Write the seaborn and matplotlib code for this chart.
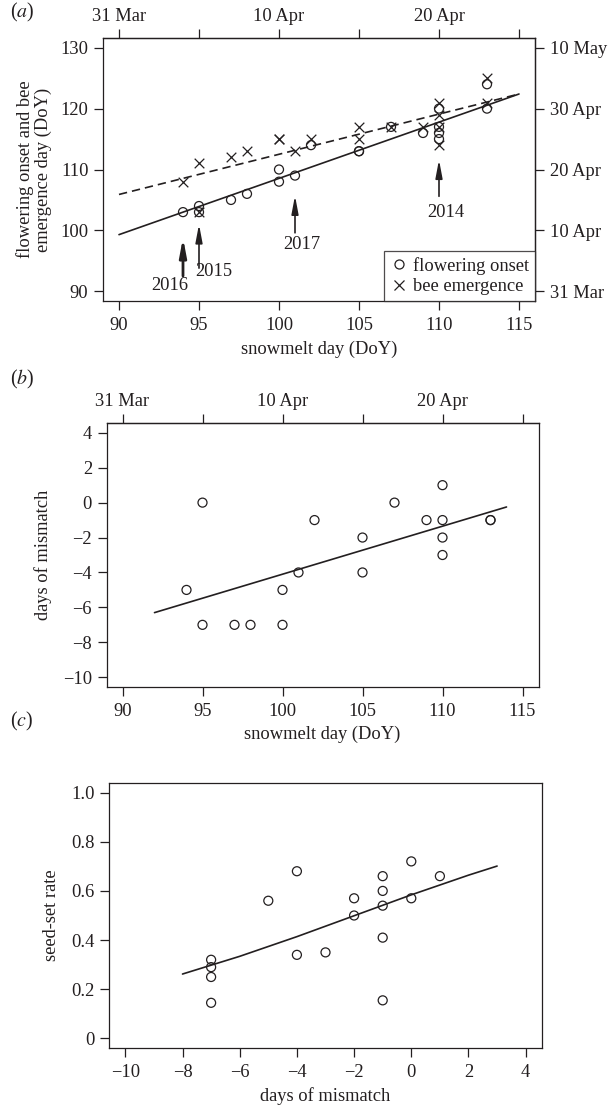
import numpy as np
import pandas as pd
import matplotlib
matplotlib.use("Agg")
import matplotlib.pyplot as plt
from matplotlib.lines import Line2D
import seaborn as sns

# ---------------- data ----------------
snow_x = [94, 95, 95, 97, 98, 100, 100, 101, 102, 105, 105, 107, 109, 110, 110, 110, 110, 113, 113]
flower_onset = [103, 104, 103, 105, 106, 110, 108, 109, 114, 113, 113, 117, 116, 120, 117, 116, 115, 124, 120]
bee_emergence = [108, 111, 103, 112, 113, 115, 115, 113, 115, 117, 115, 117, 117, 121, 119, 117, 114, 125, 121]

flower_fit_x = [90, 115]
flower_fit_y = [99.3, 122.4]
bee_fit_x = [90, 115]
bee_fit_y = [105.9, 122.4]

mismatch = [-5, 0, -7, -7, -7, -5, -7, -4, -1, -2, -4, 0, -1, 1, -1, -2, -3, -1, -1]
mis_fit_x = [92, 114]
mis_fit_y = [-6.3, -0.25]

seed_mis = [-7, -7, -7, -7, -5, -4, -4, -3, -2, -2, -1, -1, -1, -1, -1, 0, 0, 1]
seed_rate = [0.32, 0.29, 0.25, 0.145, 0.56, 0.68, 0.34, 0.35, 0.57, 0.50, 0.66, 0.60, 0.54, 0.41, 0.155, 0.72, 0.57, 0.66]
seed_fit_x = [-8, -6, -4, -2, 0, 2, 3]
seed_fit_y = [0.262, 0.334, 0.414, 0.499, 0.584, 0.664, 0.701]

snow_ticks = [90, 95, 100, 105, 110, 115]
date_ticks = [90, 95, 100, 105, 110, 115]
date_labels = ["31 Mar", "", "10 Apr", "", "20 Apr", ""]
a_yticks = [90, 100, 110, 120, 130]
a_right_labels = ["31 Mar", "10 Apr", "20 Apr", "30 Apr", "10 May"]
b_yticks = [4, 2, 0, -2, -4, -6, -8, -10]
c_xticks = [-10, -8, -6, -4, -2, 0, 2, 4]
c_yticks = [0, 0.2, 0.4, 0.6, 0.8, 1.0]
c_ylabels = ["0", "0.2", "0.4", "0.6", "0.8", "1.0"]

years = ["2016", "2015", "2017", "2014"]
year_x = [94, 95, 101, 110]

# ---------------- style ----------------
sns.set_theme(style="ticks")
INK = "#231f20"
FS = 13.3
plt.rcParams["font.family"] = ["Liberation Serif", "DejaVu Serif"]
plt.rcParams["mathtext.fontset"] = "stix"
plt.rcParams.update({
    "axes.edgecolor": INK, "axes.linewidth": 0.9,
    "xtick.color": INK, "ytick.color": INK,
    "xtick.labelcolor": INK, "ytick.labelcolor": INK,
    "xtick.direction": "out", "ytick.direction": "out",
    "xtick.major.size": 6.5, "ytick.major.size": 6.5,
    "xtick.major.pad": 5, "ytick.major.pad": 4,
    "xtick.major.width": 0.9, "ytick.major.width": 0.9,
    "xtick.labelsize": FS, "ytick.labelsize": FS,
    "axes.labelsize": FS, "text.color": INK, "axes.labelcolor": INK,
    "axes.unicode_minus": True,
})

W, H = 609, 1106
fig = plt.figure(figsize=(W / 100, H / 100), dpi=100)

def box(l, r, t, b):
    return [l / W, 1 - b / H, (r - l) / W, (b - t) / H]

axa = fig.add_axes(box(103, 535, 38, 301))
axb = fig.add_axes(box(106.5, 538.5, 423, 687))
axc = fig.add_axes(box(109.3, 541.7, 782.7, 1048.3))

circ_kw = dict(marker="o", s=42, facecolor="none", edgecolor=INK, linewidth=0.9, zorder=3)
cross_kw = dict(marker="x", s=48, color=INK, linewidth=0.9, zorder=3)

# ---------------- panel a ----------------
sns.lineplot(x=flower_fit_x, y=flower_fit_y, ax=axa, color=INK, lw=1.2)
sns.lineplot(x=bee_fit_x, y=bee_fit_y, ax=axa, color=INK, lw=1.2, linestyle=(0, (5, 3)))
sns.scatterplot(x=snow_x, y=flower_onset, ax=axa, **circ_kw)
sns.scatterplot(x=snow_x, y=bee_emergence, ax=axa, **cross_kw)
axa.set_xlim(89, 116)
axa.set_ylim(88.4, 131.6)
axa.set_xticks(snow_ticks)
axa.set_yticks(a_yticks)
axa.set_xlabel("snowmelt day (DoY)", labelpad=5)
axa.set_ylabel("flowering onset and bee\nemergence day (DoY)", labelpad=6, linespacing=1.05)
topa = axa.secondary_xaxis("top")
topa.set_xticks(date_ticks, labels=date_labels)
topa.tick_params(pad=3)
righta = axa.secondary_yaxis("right")
righta.set_yticks(a_yticks, labels=a_right_labels)

# arrows and year labels
arrow_from = [92.5, 93.8, 99.6, 105.6]
arrow_to = [98.8, 101.0, 105.7, 111.6]
arrow_lw = [2.0, 1.2, 1.2, 1.2]
label_pos = [(93.2, 90.9), (95.9, 93.3), (101.4, 97.7), (110.4, 102.9)]
for yr, xx, y0, y1, lw, (tx, ty) in zip(years, year_x, arrow_from, arrow_to, arrow_lw, label_pos):
    axa.annotate("", xy=(xx, y1), xytext=(xx, y0),
                 arrowprops=dict(arrowstyle="-|>,head_length=0.9,head_width=0.17",
                                 lw=lw, color=INK, shrinkA=0, shrinkB=0))
    axa.text(tx, ty, yr, ha="center", va="center", fontsize=FS)

handles = [Line2D([], [], marker="o", ls="none", mfc="none", mec=INK, ms=6.5, mew=0.9),
           Line2D([], [], marker="x", ls="none", color=INK, ms=7, mew=0.9)]
leg = axa.legend(handles, ["flowering onset", "bee emergence"], loc="lower right",
                 bbox_to_anchor=(1, 0), borderaxespad=0, fontsize=FS, frameon=True,
                 fancybox=False, handletextpad=0.3, handlelength=1.0, borderpad=0.3,
                 labelspacing=0.2)
leg.get_frame().set_edgecolor(INK)
leg.get_frame().set_linewidth(0.9)

# ---------------- panel b ----------------
sns.lineplot(x=mis_fit_x, y=mis_fit_y, ax=axb, color=INK, lw=1.2)
sns.scatterplot(x=snow_x, y=mismatch, ax=axb, **circ_kw)
axb.set_xlim(89, 116)
axb.set_ylim(-10.56, 4.56)
axb.set_xticks(snow_ticks)
axb.set_yticks(b_yticks)
axb.set_xlabel("snowmelt day (DoY)", labelpad=4)
axb.set_ylabel("days of mismatch", labelpad=8)
topb = axb.secondary_xaxis("top")
topb.set_xticks(date_ticks, labels=date_labels)
topb.tick_params(pad=3)

# ---------------- panel c ----------------
sns.lineplot(x=seed_fit_x, y=seed_fit_y, ax=axc, color=INK, lw=1.2)
sns.scatterplot(x=seed_mis, y=seed_rate, ax=axc, **circ_kw)
axc.set_xlim(-10.56, 4.56)
axc.set_ylim(-0.04, 1.04)
axc.set_xticks(c_xticks)
axc.set_yticks(c_yticks, labels=c_ylabels)
axc.set_xlabel("days of mismatch", labelpad=4)
axc.set_ylabel("seed-set rate", labelpad=8)

for lab, yy in zip(["a", "b", "c"], [12, 379, 721]):
    fig.text(10 / W, 1 - yy / H, r"($\mathit{%s}$)" % lab, fontsize=FS + 1, va="center", ha="left")

fig.savefig("out.png", dpi=100)
